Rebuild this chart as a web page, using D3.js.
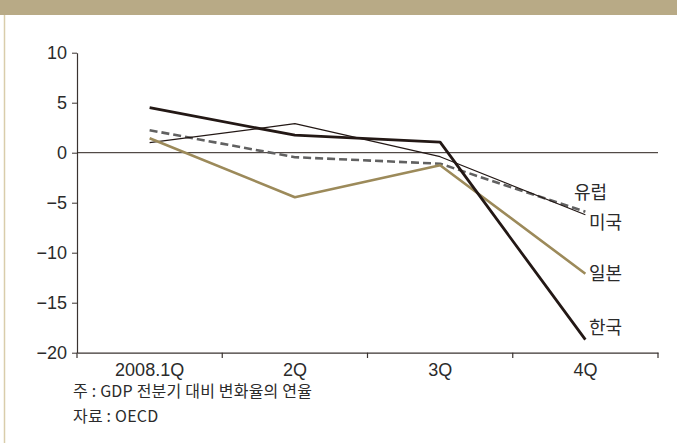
<!DOCTYPE html>
<html>
<head>
<meta charset="utf-8">
<script src="https://cdn.jsdelivr.net/npm/d3@7"></script>
<style>
  body { margin: 0; background: #fff; }
  text { font-family: "Liberation Sans", "Noto Sans CJK KR", sans-serif; }
</style>
</head>
<body>
<svg width="677" height="443"></svg>
<script>
// quarters and series (annualised q/q GDP change, %)
var quarters = ["2008.1Q", "2Q", "3Q", "4Q"];
var korea  = [4.5, 1.75, 1.05, -18.7];
var usa    = [1.0, 2.9, -0.4, -6.2];
var europe = [2.25, -0.45, -1.1, -5.9];
var japan  = [1.45, -4.45, -1.25, -12.1];
var yTicks = [10, 5, 0, -5, -10, -15, -20];

var svg = d3.select("svg");

// header band and left border
svg.append("rect").attr("x", 0).attr("y", 0).attr("width", 677).attr("height", 15).attr("fill", "#b8aa86");
svg.append("line").attr("x1", 4.5).attr("x2", 4.5).attr("y1", 15).attr("y2", 443)
  .attr("stroke", "#d9cdab").attr("stroke-width", 1.5);

var x = d3.scaleBand().domain(quarters).range([77, 658]);
var y = d3.scaleLinear().domain([-20, 10]).range([352.7, 52.7]);

// y axis
var yAxis = svg.append("g").attr("transform", "translate(77,0)")
  .call(d3.axisLeft(y).tickValues(yTicks).tickSize(5).tickSizeOuter(0)
    .tickFormat(function(d) { return d < 0 ? "\u2212" + Math.abs(d) : d; }));
yAxis.select(".domain").attr("stroke", "#3a3330").attr("stroke-width", 1.2);
yAxis.selectAll(".tick line").attr("stroke", "#3a3330");
yAxis.selectAll("text").attr("font-size", 18).attr("fill", "#2b2b2b").attr("x", -10);

// x axis
var xAxis = svg.append("g").attr("transform", "translate(0,352.7)")
  .call(d3.axisBottom(x).tickSize(0).tickSizeOuter(0));
xAxis.select(".domain").attr("stroke", "#3a3330").attr("stroke-width", 1.2);
xAxis.selectAll("text").attr("font-size", 18).attr("fill", "#2b2b2b").attr("y", 23).attr("dy", 0);
// boundary ticks between quarters
var bounds = [x.range()[0]].concat(quarters.map(function(q) { return x(q) + x.bandwidth(); }));
svg.selectAll(".xb").data(bounds).enter().append("line")
  .attr("x1", function(d) { return d; }).attr("x2", function(d) { return d; })
  .attr("y1", 352.7).attr("y2", 358).attr("stroke", "#3a3330").attr("stroke-width", 1.2);

// zero line
svg.append("line").attr("x1", 77).attr("x2", 658).attr("y1", y(0)).attr("y2", y(0))
  .attr("stroke", "#2a201c").attr("stroke-width", 1);

var line = d3.line()
  .x(function(d, i) { return x(quarters[i]) + x.bandwidth() / 2; })
  .y(function(d) { return y(d); });

var series = [
  { name: "유럽", values: europe, color: "#616161", width: 2.6, dash: "8,4", lx: 574, ly: 193 },
  { name: "미국", values: usa,    color: "#231815", width: 1.2, dash: null, lx: 589, ly: 223 },
  { name: "일본", values: japan,  color: "#9c8a5a", width: 2.6, dash: null, lx: 589, ly: 274 },
  { name: "한국", values: korea,  color: "#231815", width: 2.8, dash: null, lx: 589, ly: 328 }
];

svg.selectAll(".series").data(series).enter().append("path")
  .attr("d", function(d) { return line(d.values); })
  .attr("fill", "none")
  .attr("stroke", function(d) { return d.color; })
  .attr("stroke-width", function(d) { return d.width; })
  .attr("stroke-dasharray", function(d) { return d.dash; })
  .attr("stroke-linejoin", "round");

svg.selectAll(".lbl").data(series).enter().append("text")
  .attr("x", function(d) { return d.lx; })
  .attr("y", function(d) { return d.ly; })
  .attr("dy", "0.35em")
  .attr("font-size", 18)
  .attr("fill", "#2b2b2b")
  .style("font-family", "'Noto Sans CJK KR', sans-serif")
  .text(function(d) { return d.name; });

// notes
svg.append("text").attr("x", 73).attr("y", 397).attr("font-size", 16).attr("letter-spacing", 0.2).attr("fill", "#2b2b2b")
  .style("font-family", "'Noto Sans CJK KR', sans-serif").text("주 : GDP 전분기 대비 변화율의 연율");
svg.append("text").attr("x", 73).attr("y", 422).attr("font-size", 16).attr("letter-spacing", 0.2).attr("fill", "#2b2b2b")
  .style("font-family", "'Noto Sans CJK KR', sans-serif").text("자료 : OECD");
</script>
</body>
</html>
